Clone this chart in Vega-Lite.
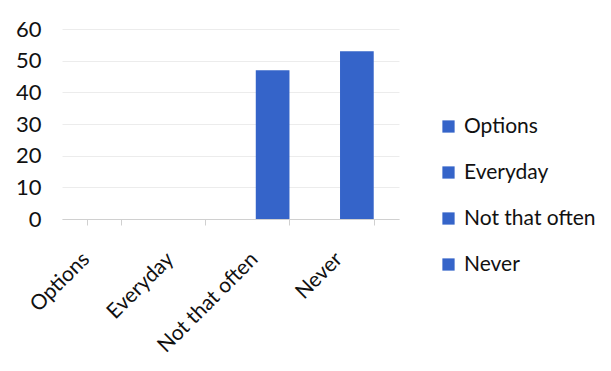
{
  "$schema": "https://vega.github.io/schema/vega-lite/v6.json",
  "autosize": {"type": "none"},
  "width": 337,
  "height": 190,
  "padding": {"left": 62, "top": 29, "right": 212, "bottom": 152},
  "background": "white",
  "config": {
    "view": {"stroke": null},
    "font": "Lato"
  },
  "data": {
    "values": [
      {"category": "Options", "value": 0},
      {"category": "Everyday", "value": 0},
      {"category": "Not that often", "value": 47},
      {"category": "Never", "value": 53}
    ]
  },
  "mark": {"type": "bar", "color": "#3564C9"},
  "encoding": {
    "x": {
      "field": "category",
      "type": "nominal",
      "sort": ["Options", "Everyday", "Not that often", "Never"],
      "scale": {"paddingInner": 0.6, "paddingOuter": 0.3},
      "axis": {
        "title": null,
        "labelAngle": -45,
        "labelFontSize": 21,
        "labelColor": "#111111",
        "labelPadding": 23,
        "labelOffset": -26,
        "domainColor": "#d0d0d0",
        "tickColor": "#d0d0d0",
        "tickSize": 6,
        "tickBand": "extent",
        "grid": false
      }
    },
    "y": {
      "field": "value",
      "type": "quantitative",
      "scale": {"domain": [0, 60]},
      "axis": {
        "title": null,
        "values": [0, 10, 20, 30, 40, 50, 60],
        "labelFontSize": 22,
        "labelColor": "#111111",
        "labelPadding": 21,
        "ticks": false,
        "domain": false,
        "grid": true,
        "gridColor": "#ececec"
      }
    },
    "color": {
      "field": "category",
      "type": "nominal",
      "sort": ["Options", "Everyday", "Not that often", "Never"],
      "scale": {"range": ["#3564C9", "#3564C9", "#3564C9", "#3564C9"]},
      "legend": {
        "title": null,
        "orient": "none",
        "legendX": 376,
        "legendY": 87,
        "padding": 0,
        "symbolType": "square",
        "symbolSize": 150,
        "symbolStrokeWidth": 0,
        "labelFontSize": 21,
        "labelColor": "#111111",
        "labelOffset": 5,
        "rowPadding": 24
      }
    }
  }
}
